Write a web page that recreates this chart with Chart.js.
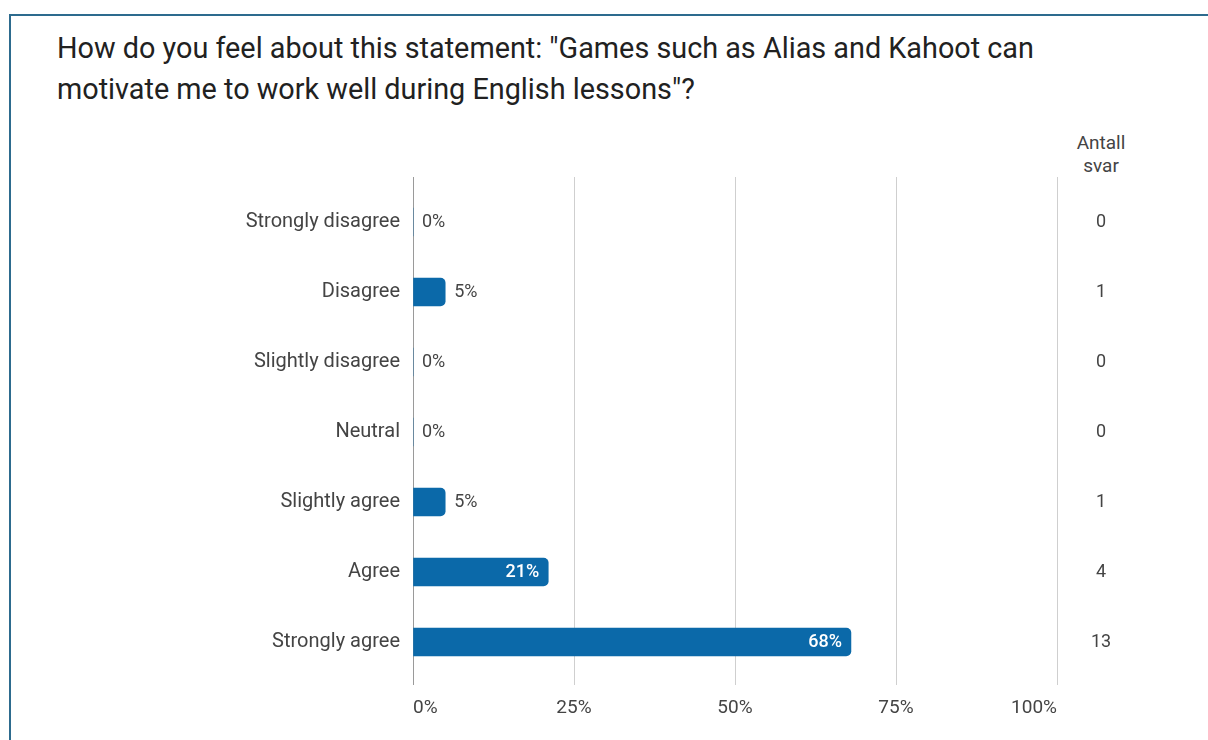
<!DOCTYPE html>
<html>
<head>
<meta charset="utf-8">
<script src="https://cdn.jsdelivr.net/npm/chart.js@4.4.1/dist/chart.umd.min.js"></script>
<style>
  html, body { margin: 0; padding: 0; background: #fff; }
  body { width: 1208px; height: 740px; position: relative; overflow: hidden; font-family: Roboto, sans-serif; }
  .frame { position: absolute; left: 9px; top: 14px; width: 1300px; height: 800px;
           border-left: 2px solid #2d6b8e; border-top: 2px solid #2d6b8e; }
  .title { position: absolute; left: 57px; top: 28px; font-size: 28.8px; line-height: 41px; color: #212121; }
  .count-head { position: absolute; left: 1061px; width: 80px; top: 131px; text-align: center;
                font-size: 19px; line-height: 23px; color: #444; }
  .chart-box { position: absolute; left: 0; top: 0; width: 1208px; height: 740px; }
</style>
</head>
<body>
<div class="frame"></div>
<div class="title">How do you feel about this statement: "Games such as Alias and Kahoot can<br>motivate me to work well during English lessons"?</div>
<div class="count-head">Antall<br>svar</div>
<div class="chart-box"><canvas id="chart" width="1208" height="740"></canvas></div>

<script>
  // Answer options and results
  const categories = ['Strongly disagree', 'Disagree', 'Slightly disagree', 'Neutral', 'Slightly agree', 'Agree', 'Strongly agree'];
  const percentValues = [0, 5, 0, 0, 5, 21, 68];
  const answerCounts = [0, 1, 0, 0, 1, 4, 13];
  const percentTicks = [0, 25, 50, 75, 100];

  const barColor = '#0b69a9';
  const textColor = '#444';

  // Percent label at the end of each bar: inside when it fits, otherwise after it
  const barLabels = {
    id: 'barLabels',
    afterDatasetsDraw(chart) {
      const ctx = chart.ctx;
      const meta = chart.getDatasetMeta(0);
      ctx.save();
      ctx.textBaseline = 'middle';
      meta.data.forEach((bar, i) => {
        const text = percentValues[i] + '%';
        ctx.font = '18px Roboto';
        const w = ctx.measureText(text).width;
        const barLen = bar.x - bar.base;
        if (barLen > w + 20) {
          ctx.font = '500 18px Roboto';
          ctx.fillStyle = '#fff';
          ctx.textAlign = 'right';
          ctx.fillText(text, bar.x - 9, bar.y);
        } else {
          ctx.fillStyle = textColor;
          ctx.textAlign = 'left';
          ctx.fillText(text, bar.x + 9, bar.y);
        }
      });
      ctx.restore();
    }
  };

  const gridColor = (c) => (c.tick && c.tick.value === 0 ? '#9a9a9a' : '#cfcfcf');

  new Chart(document.getElementById('chart'), {
    type: 'bar',
    data: {
      labels: categories,
      datasets: [{
        data: percentValues,
        backgroundColor: barColor,
        borderRadius: 5,
        borderSkipped: 'start',
        barThickness: 28
      }]
    },
    plugins: [barLabels],
    options: {
      indexAxis: 'y',
      responsive: false,
      animation: false,
      layout: { padding: { top: 177, left: 0, right: 63, bottom: 0 } },
      plugins: {
        legend: { display: false },
        tooltip: { enabled: false }
      },
      scales: {
        x: {
          position: 'bottom',
          min: 0,
          max: 100,
          afterBuildTicks: (s) => { s.ticks = percentTicks.map(v => ({ value: v })); },
          afterFit: (s) => { s.height = 63; },
          border: { display: false },
          grid: { color: gridColor, tickColor: gridColor, drawTicks: true, tickLength: 8, lineWidth: 1 },
          ticks: {
            align: 'inner',
            padding: 12,
            color: textColor,
            font: { family: 'Roboto', size: 19 },
            callback: (v) => v + '%'
          }
        },
        x2: {
          position: 'top',
          axis: 'x',
          min: 0,
          max: 100,
          afterBuildTicks: (s) => { s.ticks = percentTicks.map(v => ({ value: v })); },
          afterFit: (s) => { s.height = 10; },
          border: { display: false },
          grid: { drawOnChartArea: false, drawTicks: true, tickLength: 10, color: gridColor, tickColor: gridColor },
          ticks: { display: false }
        },
        y: {
          position: 'left',
          afterFit: (s) => { s.width = 413; },
          border: { display: false },
          grid: { display: false, drawTicks: false },
          ticks: {
            padding: 13,
            color: textColor,
            font: { family: 'Roboto', size: 20 }
          }
        },
        y2: {
          type: 'category',
          position: 'right',
          labels: answerCounts.map(String),
          afterFit: (s) => { s.width = 88; },
          border: { display: false },
          grid: { display: false, drawTicks: false },
          ticks: {
            crossAlign: 'center',
            padding: 34,
            color: textColor,
            font: { family: 'Roboto', size: 18 }
          }
        }
      }
    }
  });
</script>
</body>
</html>
